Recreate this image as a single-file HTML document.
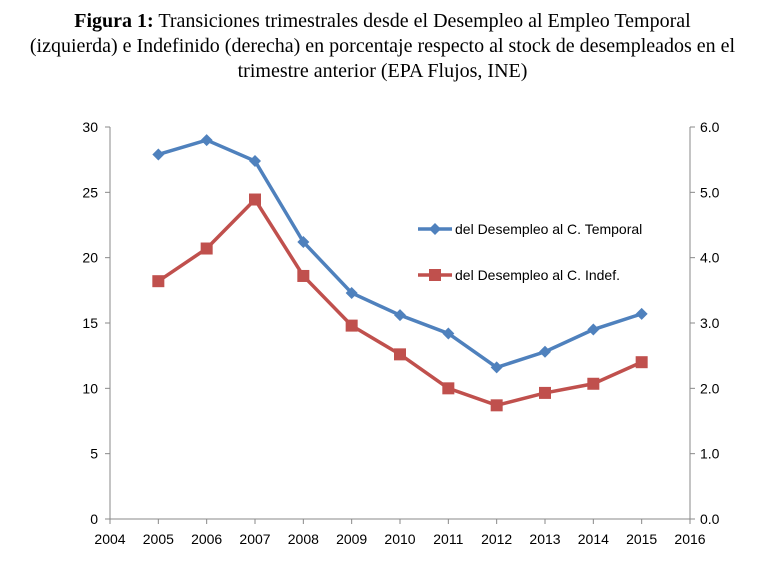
<!DOCTYPE html>
<html><head><meta charset="utf-8"><style>
body{margin:0;background:#fff;width:765px;height:562px;overflow:hidden;font-family:"Liberation Sans",sans-serif}
.title{position:absolute;left:0;top:9px;width:765px;text-align:center;font-family:"Liberation Serif",serif;font-size:20px;line-height:25px;color:#000}
</style></head><body>
<div class="title"><b>Figura 1:</b> Transiciones trimestrales desde el Desempleo al Empleo Temporal<br>(izquierda) e Indefinido (derecha) en porcentaje respecto al stock de desempleados en el<br>trimestre anterior (EPA Flujos, INE)</div>
<svg id="chart" width="765" height="562" style="position:absolute;left:0;top:0"></svg>
<script>
const years=[2005,2006,2007,2008,2009,2010,2011,2012,2013,2014,2015];
const xTicks=[2004,2005,2006,2007,2008,2009,2010,2011,2012,2013,2014,2015,2016];
const leftTicks=[0,5,10,15,20,25,30];
const rightTicks=["0.0","1.0","2.0","3.0","4.0","5.0","6.0"];
const temporal=[27.9,29.0,27.4,21.2,17.3,15.6,14.2,11.6,12.8,14.5,15.7];
const indef=[3.64,4.14,4.89,3.72,2.96,2.52,2.0,1.74,1.93,2.07,2.4];
const svg=document.getElementById('chart');const NS='http://www.w3.org/2000/svg';
const x0=110,x1=690,yB=519,yT=127;
const X=v=>x0+(v-2004)/(12)*(x1-x0);
const YL=v=>yB-v/30*(yB-yT);
const YR=v=>yB-v/6*(yB-yT);
function el(t,a,p){const e=document.createElementNS(NS,t);for(const k in a)e.setAttribute(k,a[k]);(p||svg).appendChild(e);return e;}
let e;
e=el('line',{x1:x0,y1:yT,x2:x0,y2:yB,stroke:'#888','stroke-width':1});


e=el('line',{x1:x1,y1:yT,x2:x1,y2:yB,stroke:'#888','stroke-width':1});


e=el('line',{x1:x0,y1:yB,x2:x1,y2:yB,stroke:'#888','stroke-width':1});


leftTicks.forEach((v,i)=>{const y=YL(v);
el('line',{x1:x0-5,y1:y,x2:x0,y2:y,stroke:'#888'});
el('line',{x1:x1,y1:y,x2:x1+5,y2:y,stroke:'#888'});
e=el('text',{x:x0-12,y:y+5,'text-anchor':'end','font-size':14});e.textContent=v;


e=el('text',{x:x1+10,y:y+5,'text-anchor':'start','font-size':14});e.textContent=rightTicks[i];

});
xTicks.forEach(v=>{const x=X(v);el('line',{x1:x,y1:yB,x2:x,y2:yB+5,stroke:'#888'});
e=el('text',{x:x,y:yB+25,'text-anchor':'middle','font-size':14});e.textContent=v;

});
e=el('polyline',{points:years.map((y,i)=>X(y)+','+YL(temporal[i])).join(' '),fill:'none',stroke:'#4f81bd','stroke-width':3.5});


e=el('polyline',{points:years.map((y,i)=>X(y)+','+YR(indef[i])).join(' '),fill:'none',stroke:'#c0504d','stroke-width':3.5});


years.forEach((y,i)=>{const cx=X(y),cy=YL(temporal[i]);
e=el('polygon',{points:`${cx},${cy-6} ${cx+6},${cy} ${cx},${cy+6} ${cx-6},${cy}`,fill:'#4f81bd'});


const ry=YR(indef[i]);
e=el('rect',{x:cx-6,y:ry-6,width:12,height:12,fill:'#c0504d'});

});
e=el('line',{x1:418,y1:229,x2:452,y2:229,stroke:'#4f81bd','stroke-width':3.5});


el('polygon',{points:'435,223 441,229 435,235 429,229',fill:'#4f81bd'});
e=el('text',{x:455,y:234,'font-size':14});e.textContent='del Desempleo al C. Temporal';


e=el('line',{x1:418,y1:275,x2:452,y2:275,stroke:'#c0504d','stroke-width':3.5});


el('rect',{x:429,y:269,width:12,height:12,fill:'#c0504d'});
e=el('text',{x:455,y:280,'font-size':14});e.textContent='del Desempleo al C. Indef.';


</script>
</body></html>
